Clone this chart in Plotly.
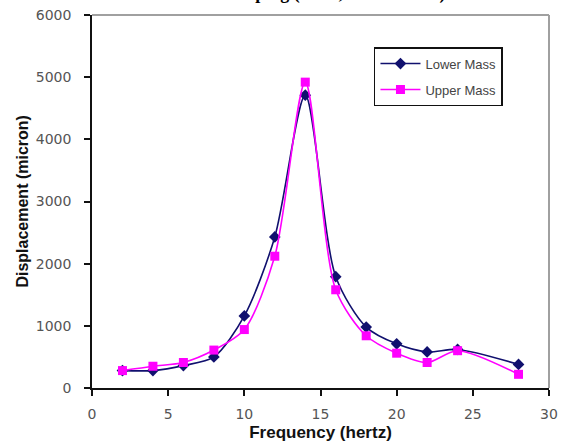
import plotly.graph_objects as go

# Frequency sweep (hertz) and measured displacement (micron)
freq_hz = [2, 4, 6, 8, 10, 12, 14, 16, 18, 20, 22, 24, 28]
lower_mass = [280, 280, 360, 500, 1160, 2430, 4710, 1790, 980, 710, 580, 620, 380]
upper_mass = [280, 350, 410, 610, 940, 2120, 4920, 1580, 840, 560, 410, 600, 220]

x_ticks = [0, 5, 10, 15, 20, 25, 30]
y_ticks = [0, 1000, 2000, 3000, 4000, 5000, 6000]

NAVY = "#10106e"
PINK = "#ff00ff"
TICK_FONT = dict(family="DejaVu Sans, Arial, sans-serif", size=14, color="#555555")
SANS = "Liberation Sans, Arial, sans-serif"

fig = go.Figure()
fig.add_trace(go.Scatter(
    x=freq_hz, y=lower_mass, name="Lower Mass", legendgroup="lower",
    mode="lines+markers", line=dict(color=NAVY, width=1.6, shape="spline", smoothing=0.8),
    marker=dict(symbol="diamond", size=9, color=NAVY),
))
fig.add_trace(go.Scatter(
    x=freq_hz, y=upper_mass, name="Upper Mass", legendgroup="upper",
    mode="lines+markers", line=dict(color=PINK, width=1.6, shape="spline", smoothing=0.8),
    marker=dict(symbol="square", size=9, color=PINK),
))

fig.update_layout(
    width=566, height=443,
    margin=dict(l=92, r=17, t=15, b=55, autoexpand=False),
    paper_bgcolor="white", plot_bgcolor="white",
    showlegend=True,
    legend=dict(
        x=0.617, y=0.914, xanchor="left", yanchor="top",
        bgcolor="white", bordercolor="#111111", borderwidth=1.5,
        font=dict(family=SANS, size=13, color="#444444"),
        itemwidth=40, tracegroupgap=6, entrywidth=133,
    ),
    xaxis=dict(
        range=[0, 30], tickvals=x_ticks, showgrid=False, zeroline=False,
        showline=True, linecolor="#111111", linewidth=1.5, automargin=False,
        ticks="outside", ticklen=6, tickwidth=1.5, tickcolor="#111111",
        tickfont=TICK_FONT, ticklabelstandoff=6,
        title=dict(text="<b>Frequency (hertz)</b>",
                   font=dict(family=SANS, size=17, color="#111111"), standoff=6),
    ),
    yaxis=dict(
        range=[0, 6000], tickvals=y_ticks, showgrid=False, zeroline=False,
        showline=True, linecolor="#111111", linewidth=1.5, automargin=False,
        ticks="outside", ticklen=6, tickwidth=1.5, tickcolor="#111111",
        tickfont=TICK_FONT, ticklabelstandoff=10,
    ),
    shapes=[
        dict(type="line", xref="paper", yref="paper", x0=0, x1=1, y0=1, y1=1,
             line=dict(color="#a0a0a0", width=2)),
        dict(type="line", xref="paper", yref="paper", x0=1, x1=1, y0=0, y1=1,
             line=dict(color="#a0a0a0", width=2)),
    ],
    annotations=[
        # y-axis title, set close to the tick labels
        dict(text="<b>Displacement (micron)</b>", xref="paper", yref="paper",
             x=-0.153, y=0.5, xanchor="center", yanchor="middle", textangle=-90,
             showarrow=False, font=dict(family=SANS, size=16, color="#111111")),
        # chart heading above the frame
        dict(text="<b>Without Damping (6mm, Two Masses)</b>", xref="paper", yref="paper",
             x=0.45, y=1.024, xanchor="center", yanchor="bottom", showarrow=False,
             font=dict(family="Liberation Serif, Times New Roman, serif", size=18, color="black")),
    ],
)

fig.write_html("out.html")
